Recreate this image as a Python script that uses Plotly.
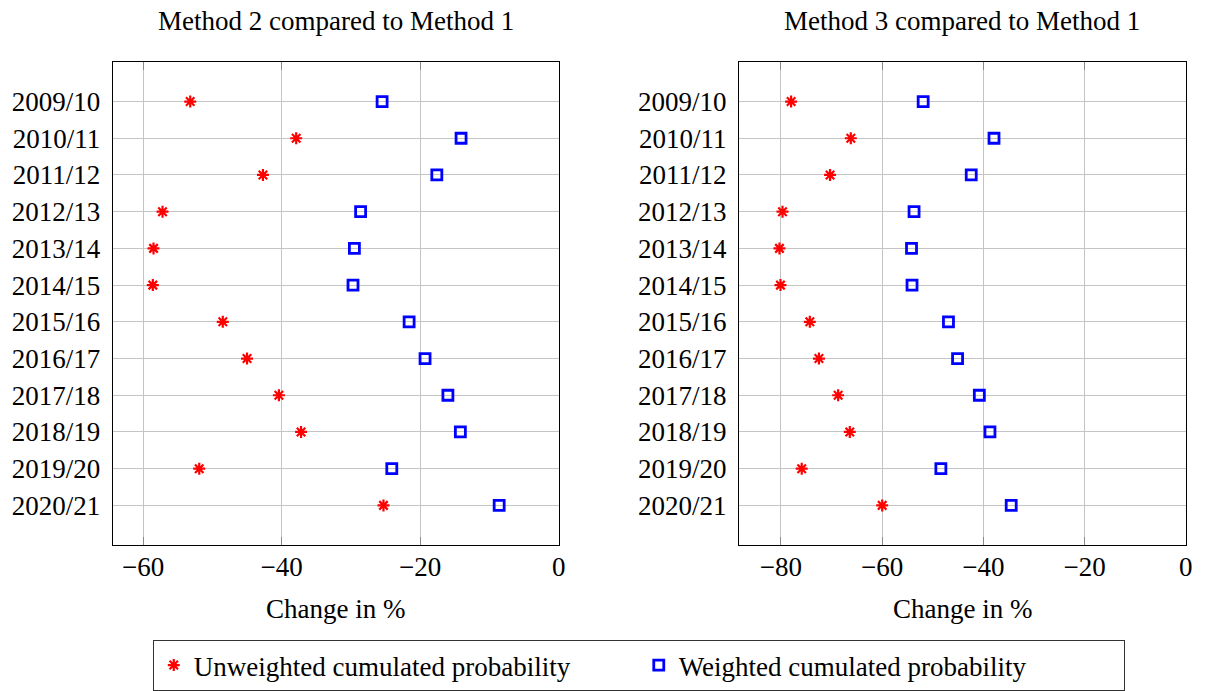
import plotly.graph_objects as go

years = ["2009/10", "2010/11", "2011/12", "2012/13", "2013/14", "2014/15",
         "2015/16", "2016/17", "2017/18", "2018/19", "2019/20", "2020/21"]

m2_unweighted = [-53.2, -37.9, -42.7, -57.2, -58.5, -58.6, -48.5, -45.0, -40.4, -37.2, -51.9, -25.3]
m2_weighted = [-25.5, -14.1, -17.6, -28.6, -29.5, -29.7, -21.6, -19.3, -16.0, -14.2, -24.1, -8.6]
m3_unweighted = [-78.0, -66.2, -70.3, -79.7, -80.3, -80.1, -74.3, -72.5, -68.7, -66.4, -75.9, -60.0]
m3_weighted = [-51.9, -37.9, -42.4, -53.7, -54.2, -54.1, -46.9, -45.1, -40.8, -38.7, -48.4, -34.5]

titles = ["Method 2 compared to Method 1", "Method 3 compared to Method 1"]
xtitle = "Change in %"
legend_names = ["Unweighted cumulated probability", "Weighted cumulated probability"]
xticks_left = [-60, -40, -20, 0]
xticks_right = [-80, -60, -40, -20, 0]

FONT = "Liberation Serif"
FS = 27
W, H = 1205, 691

def px(xp):
    return xp / W

def py(yp):
    return 1 - yp / H

fig = go.Figure()

star = dict(symbol="asterisk-open", size=10, color="red", line=dict(color="red", width=2.2))
sq = dict(symbol="square-open", size=10, color="blue", line=dict(color="blue", width=2.8))

fig.add_trace(go.Scatter(x=m2_unweighted, y=years, mode="markers", marker=star,
                         name=legend_names[0], xaxis="x", yaxis="y"))
fig.add_trace(go.Scatter(x=m2_weighted, y=years, mode="markers", marker=sq,
                         name=legend_names[1], xaxis="x", yaxis="y"))
fig.add_trace(go.Scatter(x=m3_unweighted, y=years, mode="markers", marker=star,
                         name=legend_names[0], xaxis="x2", yaxis="y2", showlegend=False))
fig.add_trace(go.Scatter(x=m3_weighted, y=years, mode="markers", marker=sq,
                         name=legend_names[1], xaxis="x2", yaxis="y2", showlegend=False))

ydom = [py(547), py(61.7)]
xdom1 = [px(113.3), px(562)]
xdom2 = [px(743.3), px(1192.7)]

def xaxis(dom, rng, ticks, anchor):
    return dict(domain=dom, range=rng, tickvals=ticks, anchor=anchor,
                showgrid=True, gridcolor="#c4c4c4", gridwidth=1,
                zeroline=False, showline=True, linecolor="black", linewidth=1.2, mirror="ticks",
                ticks="inside", ticklen=8, tickcolor="#8a8a8a", tickwidth=1,
                tickfont=dict(family=FONT, size=FS, color="black"),
                ticklabelstandoff=-3)

def yaxis(rng, anchor):
    return dict(domain=ydom, type="category", categoryarray=years, range=rng, anchor=anchor,
                showgrid=True, gridcolor="#c4c4c4", gridwidth=1,
                zeroline=False, showline=True, linecolor="black", linewidth=1.2, mirror=True,
                ticks="", tickfont=dict(family=FONT, size=FS, color="black"),
                ticklabelstandoff=6)

yr = [len(years) - 1 + 1.09, -1.09]

fig.update_layout(
    autosize=True,
    margin=dict(l=0, r=0, t=0, b=0),
    paper_bgcolor="white", plot_bgcolor="white",
    font=dict(family=FONT, size=FS, color="black"),
    xaxis=xaxis(xdom1, [-64.4, 0], xticks_left, "y"),
    yaxis=yaxis(yr, "x"),
    xaxis2=xaxis(xdom2, [-88.3, 0], xticks_right, "y2"),
    yaxis2=yaxis(yr, "x2"),
    legend=dict(orientation="h", x=px(642.5), y=py(667.5), xanchor="center", yanchor="middle",
                bordercolor="#333333", borderwidth=1, bgcolor="white",
                font=dict(family=FONT, size=FS, color="black"),
                itemwidth=30, entrywidth=440, entrywidthmode="pixels"),
    showlegend=True,
)

annos = [
    dict(text=titles[0], x=(xdom1[0] + xdom1[1]) / 2, y=py(21)),
    dict(text=titles[1], x=(xdom2[0] + xdom2[1]) / 2, y=py(21)),
    dict(text=xtitle, x=(xdom1[0] + xdom1[1]) / 2, y=py(611)),
    dict(text=xtitle, x=(xdom2[0] + xdom2[1]) / 2, y=py(611)),
]
for a in annos:
    fig.add_annotation(xref="paper", yref="paper", xanchor="center", yanchor="middle",
                       showarrow=False, font=dict(family=FONT, size=FS, color="black"), **a)

post = ("document.body.style.margin='0';"
        "document.body.style.overflow='hidden';"
        "document.documentElement.style.overflow='hidden';"
        "var gd=document.getElementById('{plot_id}');"
        "gd.style.position='fixed';gd.style.left='0';gd.style.top='0';"
        "gd.style.width='100vw';gd.style.height='100vh';"
        "Plotly.Plots.resize(gd);")

fig.write_html("out.html", default_width="100vw", default_height="100vh",
               config={"displayModeBar": False, "responsive": True},
               post_script=post)
